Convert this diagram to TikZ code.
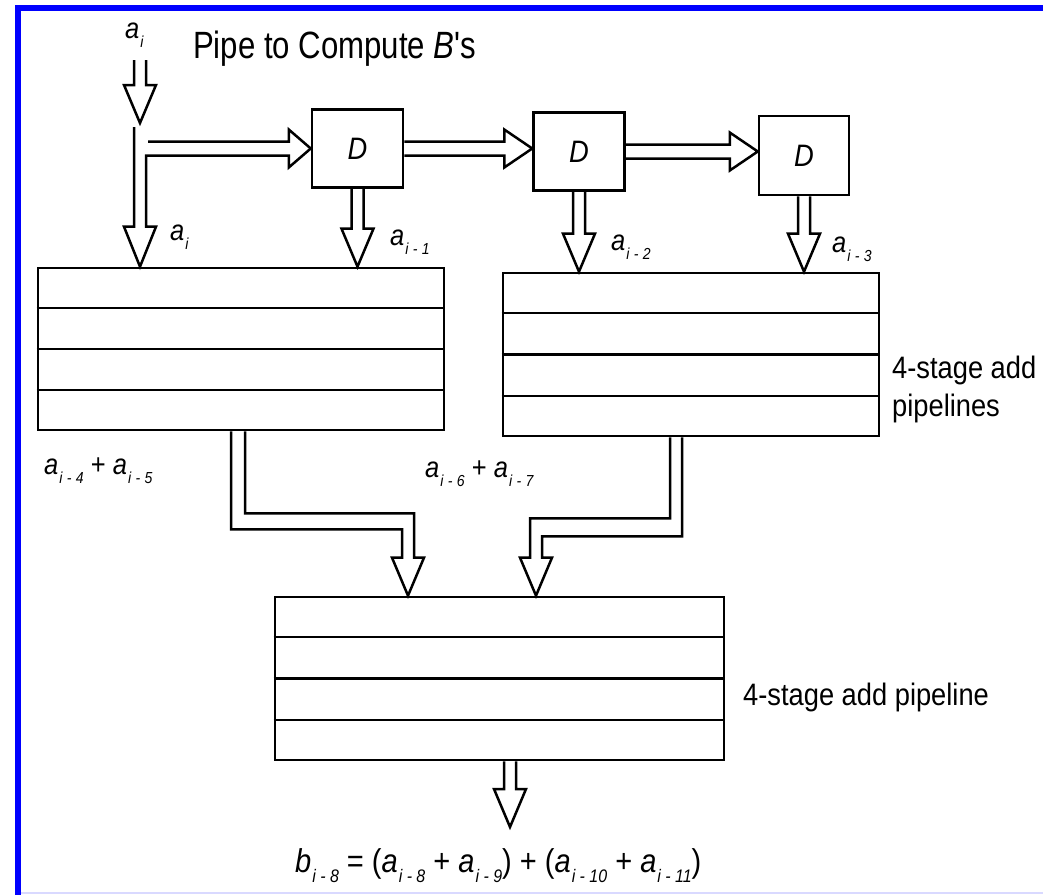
\documentclass[tikz,border=0pt]{standalone}
\usepackage{fontspec}
\setmainfont{Liberation Sans}
\newfontfamily\lab[FakeStretch=0.88]{Liberation Sans}
\newfontfamily\titlef[FakeStretch=0.82]{Liberation Sans}
\usetikzlibrary{calc}
\newcommand\ssub[1]{\raisebox{-0.6ex}{\scalebox{0.55}{\itshape #1}}}
\newcommand\sm{\kern8pt-\kern8pt}
\newcommand\va[1]{\textit{a}\kern1pt\ssub{#1}}
\newcommand\hdown[2]{\draw[conn] let \p1=(#1), \p2=(#2) in
  (\x2-6pt,\y1) -- (\x2-6pt,\y2+38pt) -- (\x2-16pt,\y2+38pt) -- (\x2,\y2)
  -- (\x2+16pt,\y2+38pt) -- (\x2+6pt,\y2+38pt) -- (\x2+6pt,\y1);}
\newcommand\hright[2]{\draw[conn] let \p1=(#1), \p2=(#2) in
  (\x1,\y2+7pt) -- (\x2-28pt,\y2+7pt) -- (\x2-28pt,\y2+19pt) -- (\x2,\y2)
  -- (\x2-28pt,\y2-19pt) -- (\x2-28pt,\y2-7pt) -- (\x1,\y2-7pt);}
\begin{document}
\begin{tikzpicture}[x=1pt,y=-1pt,
  conn/.style={line width=2.5pt, line join=miter},
  dbox/.style={draw, line width=2.5pt, inner sep=0pt, minimum width=91pt, minimum height=78pt,
    font=\lab\itshape\fontsize{31}{32}\selectfont},
  pipebox/.style={draw, line width=2.7pt, inner sep=0pt},
  lbl/.style={inner sep=0pt, font=\lab\fontsize{29}{30}\selectfont},
  txt/.style={inner sep=0pt, font=\lab\fontsize{31}{38}\selectfont, align=left}]
\useasboundingbox (0,0) rectangle (1043,895);
\fill[white] (0,0) rectangle (1043,895);
% blue frame
\fill[blue] (15,5) rectangle (1043,11);
\fill[blue] (15,5) rectangle (21,895);
\draw[blue!15, line width=1.5pt] (21,893) -- (1043,893);

% title
\node[anchor=base west, inner sep=0pt, font=\titlef\fontsize{38}{40}\selectfont] (title) at (193,58) {Pipe to Compute \textit{B}'s};

% delay boxes
\node[dbox] (D1) at (357.5,148.5) {D};
\node[dbox] (D2) at (579,151.5) {D};
\node[dbox, minimum width=90pt, minimum height=79pt] (D3) at (804,155.5) {D};

% pipelines
\node[pipebox, minimum width=406pt, minimum height=162pt] (box1) at (241,349) {};
\node[pipebox, minimum width=376pt, minimum height=163pt] (box2) at (691,354.5) {};
\node[pipebox, minimum width=449pt, minimum height=163pt] (box3) at (499.5,678.5) {};
\foreach \b in {box1,box2,box3}{
  \foreach \f in {0.25,0.5,0.75}{
    \draw[line width=2.5pt] ($(\b.north west)!\f!(\b.south west)$) -- ($(\b.north east)!\f!(\b.south east)$);
  }
}

% input
\node[lbl, anchor=base west] (ain) at (125,38) {\va{i}};
\coordinate (inTop) at (140,60);
\coordinate (inTip) at (140,123);
\hdown{inTop}{inTip}
\coordinate (split) at (140,127);
\draw[conn] let \p1=(split), \p2=(split |- box1.north), \p3=(D1.west) in
  (\x1-6pt,\y1) -- (\x1-6pt,\y2+40pt) -- (\x1-16pt,\y2+40pt) -- (\x1,\y2)
  -- (\x1+16pt,\y2+40pt) -- (\x1+6pt,\y2+40pt) -- (\x1+6pt,\y3-7pt)
  -- (\x3-22pt,\y3-7pt) -- (\x3-22pt,\y3-19pt) -- (\x3,\y3)
  -- (\x3-22pt,\y3+19pt) -- (\x3-22pt,\y3+7pt) -- (\x1+8pt,\y3+7pt);

% D chain
\hright{D1.east}{D1.east -| D2.west}
\hright{D2.east}{D2.east -| D3.west}
\hdown{D1.south}{D1.south |- box1.north}
\hdown{D2.south}{D2.south |- box2.north}
\hdown{D3.south}{D3.south |- box2.north}

% labels for taps
\node[lbl, anchor=base west] (l0) at (170,240) {\va{i}};
\node[lbl, anchor=base west] (l1) at (390,245) {\va{i\sm 1}};
\node[lbl, anchor=base west] (l2) at (611,250) {\va{i\sm 2}};
\node[lbl, anchor=base west] (l3) at (832,252) {\va{i\sm 3}};

\node[lbl, anchor=base west] (s1) at (44,474) {\va{i\sm 4} + \va{i\sm 5}};
\node[lbl, anchor=base west] (s2) at (425,477) {\va{i\sm 6} + \va{i\sm 7}};

\node[txt, anchor=north west] (t1) at (892,356) {4-stage add\\pipelines};
\node[txt, anchor=west] (t2) at (743,697) {4-stage add pipeline};

% combining connectors
\path (box1.south) ++(-3,0) coordinate (o1);
\path (box3.north) ++(-91.5,0) coordinate (i1);
\draw[conn] let \p1=(o1), \p2=(i1) in
  (\x1-7pt,\y1) -- (\x1-7pt,\y1-98pt) -- (\x2-6pt,\y1-98pt) -- (\x2-6pt,\y2+38pt)
  -- (\x2-16pt,\y2+38pt) -- (\x2,\y2) -- (\x2+16pt,\y2+38pt) -- (\x2+6pt,\y2+38pt)
  -- (\x2+6pt,\y1-82pt) -- (\x1+7pt,\y1-82pt) -- (\x1+7pt,\y1);
\path (box2.south) ++(-15,0) coordinate (o2);
\path (box3.north) ++(36.5,0) coordinate (i2);
\draw[conn] let \p1=(o2), \p2=(i2) in
  (\x1+6pt,\y1) -- (\x1+6pt,\y1-99pt) -- (\x2+6pt,\y1-99pt) -- (\x2+6pt,\y2+38pt)
  -- (\x2+16pt,\y2+38pt) -- (\x2,\y2) -- (\x2-16pt,\y2+38pt) -- (\x2-6pt,\y2+38pt)
  -- (\x2-6pt,\y1-81pt) -- (\x1-6pt,\y1-81pt) -- (\x1-6pt,\y1);

% output
\coordinate (outTip) at (510,827);
\hdown{box3.south}{outTip}
\node[lbl, anchor=base west, font=\lab\fontsize{33}{34}\selectfont] (res) at (295,872)
  {\textit{b}\kern1pt\ssub{i\sm 8} = (\va{i\sm 8} + \va{i\sm 9}) + (\va{i\sm 10} + \va{i\sm 11})};
\end{tikzpicture}
\end{document}
